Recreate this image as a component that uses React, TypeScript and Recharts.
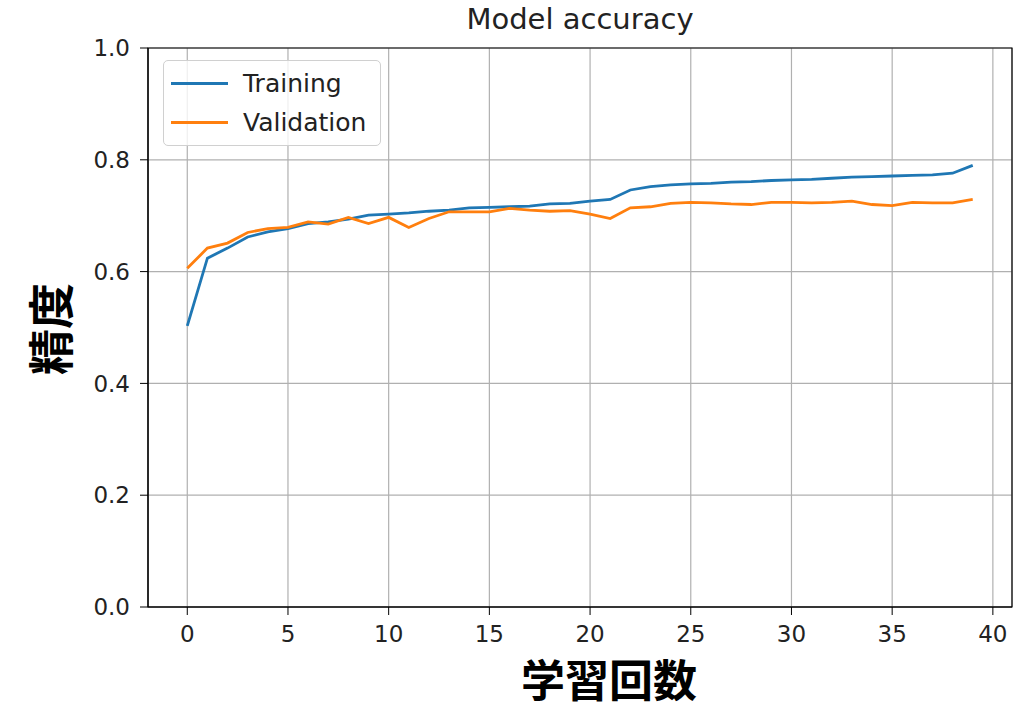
import {
    LineChart,
    Line,
    XAxis,
    YAxis,
    CartesianGrid,
    ReferenceArea,
} from 'recharts';

// accuracy per epoch
const epochs = Array.from({ length: 40 }, (_, i) => i);
const training = [
    0.503, 0.624, 0.642, 0.662, 0.671, 0.677, 0.686, 0.689, 0.694, 0.701,
    0.703, 0.705, 0.708, 0.71, 0.714, 0.715, 0.716, 0.717, 0.721, 0.722,
    0.726, 0.729, 0.746, 0.752, 0.755, 0.757, 0.758, 0.76, 0.761, 0.763,
    0.764, 0.765, 0.767, 0.769, 0.77, 0.771, 0.772, 0.773, 0.776, 0.79,
];
const validation = [
    0.606, 0.642, 0.651, 0.67, 0.677, 0.679, 0.689, 0.685, 0.697, 0.686,
    0.697, 0.679, 0.695, 0.707, 0.707, 0.707, 0.713, 0.71, 0.708, 0.709,
    0.703, 0.695, 0.714, 0.716, 0.722, 0.724, 0.723, 0.721, 0.72, 0.724,
    0.724, 0.723, 0.724, 0.726, 0.72, 0.718, 0.724, 0.723, 0.723, 0.729,
];
const xTicks = [0, 5, 10, 15, 20, 25, 30, 35, 40];
const yTicks = [0, 0.2, 0.4, 0.6, 0.8, 1.0];

const data = epochs.map((e, i) => ({
    epoch: e,
    training: training[i],
    validation: validation[i],
}));

const BLUE = '#1f77b4';
const ORANGE = '#ff7f0e';
const FONT = '"DejaVu Sans", sans-serif';
const CJK = '"Noto Sans CJK JP", sans-serif';
const X_DOMAIN: [number, number] = [-1.95, 40.95];

const tickStyle = { fontSize: 23, fill: '#222', fontFamily: FONT };

export default function App() {
    return (
        <div
            style={{
                position: 'absolute',
                left: 0,
                top: 0,
                width: 1031,
                height: 711,
                background: '#fff',
            }}
        >
            <LineChart
                width={1031}
                height={711}
                data={data}
                margin={{ top: 48, right: 19, bottom: 74, left: 88 }}
            >
                <CartesianGrid stroke="#b0b0b0" strokeWidth={1.2} />
                <XAxis
                    dataKey="epoch"
                    type="number"
                    domain={X_DOMAIN}
                    ticks={xTicks}
                    height={30}
                    tick={tickStyle}
                    tickSize={8}
                    tickMargin={11}
                    axisLine={{ stroke: '#000' }}
                    tickLine={{ stroke: '#000' }}
                />
                <YAxis
                    type="number"
                    domain={[0, 1]}
                    ticks={yTicks}
                    width={60}
                    tick={tickStyle}
                    tickSize={8}
                    tickMargin={10}
                    tickFormatter={(v: number) => v.toFixed(1)}
                    axisLine={{ stroke: '#000' }}
                    tickLine={{ stroke: '#000' }}
                />
                {/* plot frame */}
                <ReferenceArea
                    x1={X_DOMAIN[0]}
                    x2={X_DOMAIN[1]}
                    y1={0}
                    y2={1}
                    fill="none"
                    stroke="#000"
                    strokeWidth={1.2}
                />
                <Line
                    dataKey="training"
                    stroke={BLUE}
                    strokeWidth={2.8}
                    dot={false}
                    isAnimationActive={false}
                />
                <Line
                    dataKey="validation"
                    stroke={ORANGE}
                    strokeWidth={2.8}
                    dot={false}
                    isAnimationActive={false}
                />
            </LineChart>

            {/* title */}
            <div
                style={{
                    position: 'absolute',
                    left: 148,
                    width: 864,
                    top: 2,
                    textAlign: 'center',
                    fontFamily: FONT,
                    fontSize: 29,
                    lineHeight: '34px',
                    color: '#222',
                }}
            >
                Model accuracy
            </div>

            {/* legend */}
            <div
                style={{
                    position: 'absolute',
                    left: 163,
                    top: 60,
                    width: 216,
                    height: 84,
                    border: '1.5px solid #d0d0d0',
                    borderRadius: 5,
                    background: 'rgba(255,255,255,0.8)',
                    fontFamily: FONT,
                    fontSize: 25,
                    color: '#222',
                }}
            >
                {[
                    { name: 'Training', color: BLUE, top: 7 },
                    { name: 'Validation', color: ORANGE, top: 46 },
                ].map((it) => (
                    <div
                        key={it.name}
                        style={{
                            position: 'absolute',
                            left: 0,
                            top: it.top,
                            height: 30,
                            display: 'flex',
                            alignItems: 'center',
                        }}
                    >
                        <span
                            style={{
                                display: 'inline-block',
                                marginLeft: 7,
                                width: 57,
                                height: 3,
                                background: it.color,
                            }}
                        />
                        <span style={{ marginLeft: 15 }}>{it.name}</span>
                    </div>
                ))}
            </div>

            {/* axis titles */}
            <div
                style={{
                    position: 'absolute',
                    left: 409,
                    width: 400,
                    top: 656,
                    textAlign: 'center',
                    fontFamily: CJK,
                    fontWeight: 700,
                    fontSize: 44,
                    lineHeight: '44px',
                    color: '#000',
                }}
            >
                学習回数
            </div>
            <div
                style={{
                    position: 'absolute',
                    left: 48,
                    top: 329,
                    transform: 'translate(-50%, -50%) rotate(-90deg)',
                    fontFamily: CJK,
                    fontWeight: 700,
                    fontSize: 46,
                    lineHeight: '50px',
                    whiteSpace: 'nowrap',
                    color: '#000',
                }}
            >
                精度
            </div>
        </div>
    );
}
